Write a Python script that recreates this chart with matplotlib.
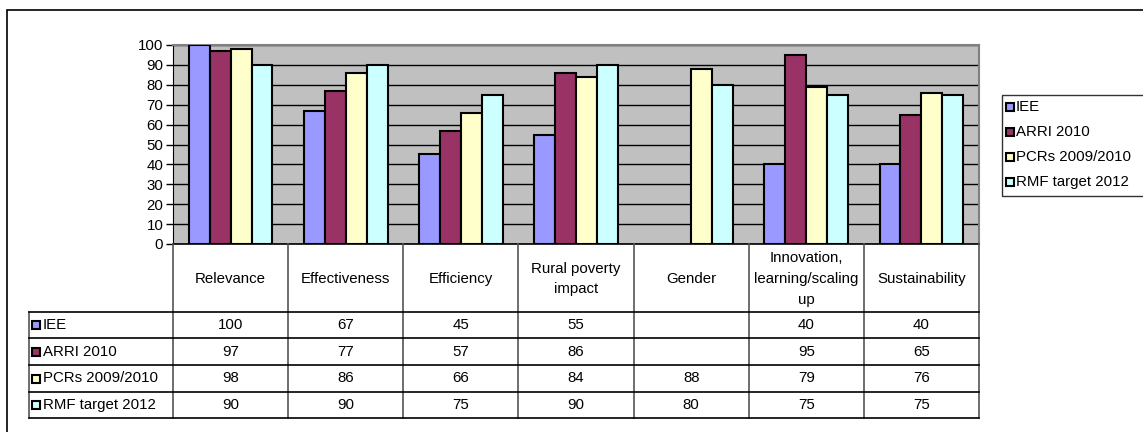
import numpy as np
import matplotlib
matplotlib.use("Agg")
import matplotlib.pyplot as plt
from matplotlib.patches import Rectangle
from matplotlib.lines import Line2D

plt.rcParams['font.family'] = ['Liberation Sans', 'DejaVu Sans']

categories = ["Relevance", "Effectiveness", "Efficiency", "Rural poverty\nimpact",
              "Gender", "Innovation,\nlearning/scaling\nup", "Sustainability"]
series_names = ["IEE", "ARRI 2010", "PCRs 2009/2010", "RMF target 2012"]
iee = [100, 67, 45, 55, None, 40, 40]
arri = [97, 77, 57, 86, None, 95, 65]
pcrs = [98, 86, 66, 84, 88, 79, 76]
rmf = [90, 90, 75, 90, 80, 75, 75]
yticks = [0, 10, 20, 30, 40, 50, 60, 70, 80, 90, 100]

series = [iee, arri, pcrs, rmf]
colors = ["#9999FF", "#993366", "#FFFFCC", "#CCFFFF"]

W, H = 1143, 432
fig = plt.figure(figsize=(W / 100, H / 100), dpi=100)
FS = 10.8


def fx(x):
    return x / W


def fy(y):
    return 1 - y / H


# outer chart frame (extends past the image edge)
fig.patches.append(Rectangle((fx(7), fy(H + 20)), fx(W + 20) - fx(7), fy(10) - fy(H + 20),
                             transform=fig.transFigure, fill=False, ec="black", lw=1.2))

# plot area
L, R, T, B = 173, 979, 45, 244
ax = fig.add_axes([fx(L), fy(B), fx(R) - fx(L), fy(T) - fy(B)])
ax.set_facecolor("#C0C0C0")
n = len(categories)
ax.set_xlim(-0.5, n - 0.5)
ax.set_ylim(0, 100)
w = 1 / 5.5
x = np.arange(n)
for j, (vals, c) in enumerate(zip(series, colors)):
    h = np.array([np.nan if v is None else v for v in vals], dtype=float)
    ax.bar(x + (j - 1.5) * w, h, width=w, color=c, edgecolor="black", linewidth=1.5,
           zorder=3, label=series_names[j])
ax.set_yticks(yticks)
ax.yaxis.grid(True, color="black", lw=1, zorder=1)
ax.set_axisbelow(True)
ax.set_xticks([])
ax.tick_params(axis="y", direction="out", length=5, width=1, labelsize=FS, pad=2, colors="black")
for s in ["top", "right"]:
    ax.spines[s].set_color("#808080")
    ax.spines[s].set_linewidth(1.5)
ax.spines["left"].set_color("black")
ax.spines["bottom"].set_color("black")
ax.spines["bottom"].set_linewidth(1.2)

# data table
TL = 29
rows_y = [244, 312, 338, 365, 392, 418]
tax = fig.add_axes([fx(TL), fy(rows_y[-1]), fx(R) - fx(TL), fy(rows_y[0]) - fy(rows_y[-1])])
colw = (R - L) / n
left_edge = -0.5 - (L - TL) / colw
tax.set_xlim(left_edge, n - 0.5)
tax.set_ylim(rows_y[-1], rows_y[0])
tax.axis("off")
vcol = "#555555"
for k in range(n + 1):
    xv = k - 0.5
    tax.add_line(Line2D([xv, xv], [rows_y[0], rows_y[-1]], color=vcol, lw=1.2, clip_on=False))
tax.add_line(Line2D([left_edge, left_edge], [rows_y[1], rows_y[-1]], color=vcol, lw=1.2, clip_on=False))
for yy in rows_y[1:]:
    tax.add_line(Line2D([left_edge, n - 0.5], [yy, yy], color="black", lw=1.2, clip_on=False))
for i, cat in enumerate(categories):
    tax.text(i, (rows_y[0] + rows_y[1]) / 2 + 1, cat, ha="center", va="center", fontsize=FS,
             linespacing=1.6)
for j, (vals, c) in enumerate(zip(series, colors)):
    yc = (rows_y[j + 1] + rows_y[j + 2]) / 2
    for i, v in enumerate(vals):
        if v is not None:
            tax.text(i, yc, str(v), ha="center", va="center", fontsize=FS)
    kx = 32
    fig.patches.append(Rectangle((fx(kx), fy(yc + 4)), 8 / W, 8 / H, transform=fig.transFigure,
                                 fc=c, ec="black", lw=1.5))
    fig.text(fx(kx + 11), fy(yc), series_names[j], ha="left", va="center", fontsize=FS)

# legend at right
LX, LT, LB = 1002, 95, 196
fig.patches.append(Rectangle((fx(LX), fy(LB)), fx(W + 20) - fx(LX), fy(LT) - fy(LB),
                             transform=fig.transFigure, fill=False, ec="#333333", lw=1.0))
ly = [107, 132, 157, 182]
for j, c in enumerate(colors):
    fig.patches.append(Rectangle((fx(LX + 4), fy(ly[j] + 4)), 8 / W, 8 / H,
                                 transform=fig.transFigure, fc=c, ec="black", lw=1.5))
    fig.text(fx(LX + 14), fy(ly[j]), series_names[j], ha="left", va="center", fontsize=FS)

fig.savefig("out.png", dpi=100)
